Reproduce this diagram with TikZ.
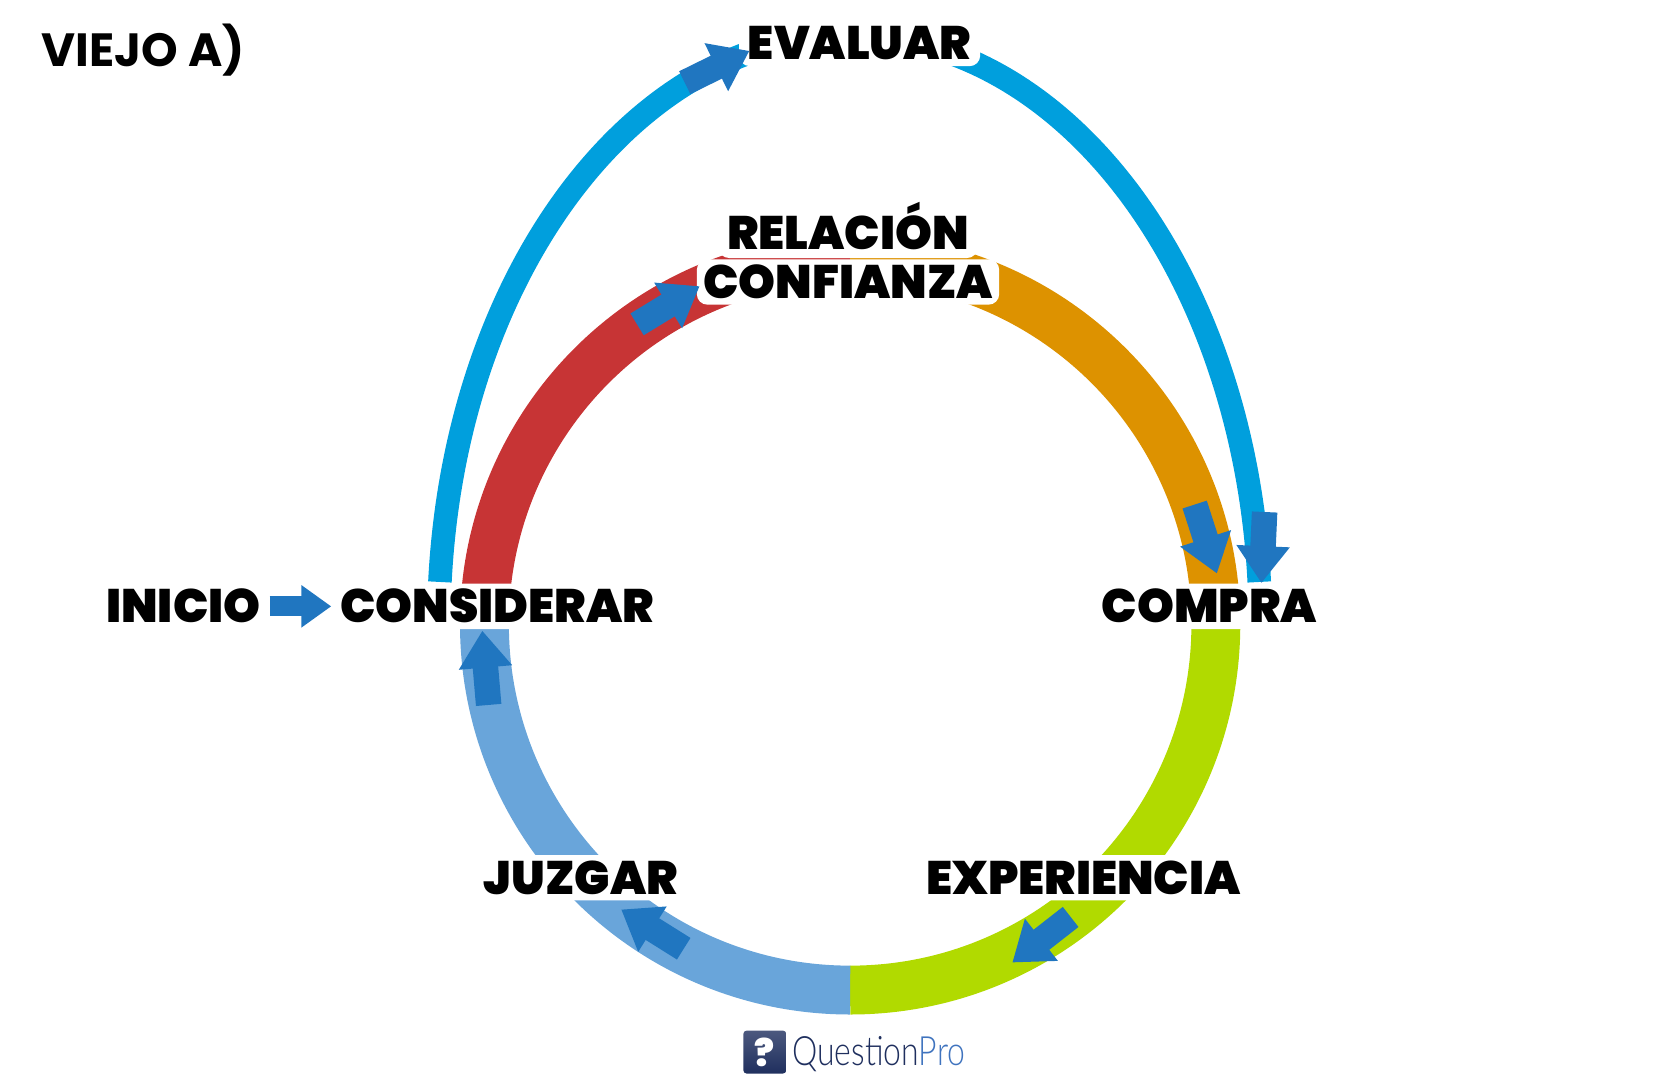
\documentclass[tikz,border=0pt]{standalone}
\usepackage{fontspec}
\usetikzlibrary{arrows.meta}
\setmainfont{Poppins}
\newfontfamily\rotulofont{Poppins Black}
\newfontfamily\titulofont{Poppins Bold}
\newfontfamily\logofont[FakeStretch=0.79]{Lato Light}
\definecolor{rojo}{HTML}{C73435}
\definecolor{naranja}{HTML}{DD9200}
\definecolor{celeste}{HTML}{009FDD}
\definecolor{azulclaro}{HTML}{69A5DA}
\definecolor{verde}{HTML}{B1DA00}
\definecolor{flechaazul}{HTML}{2076C0}
\definecolor{logonavy}{HTML}{1F2F5E}
\definecolor{logoblue}{HTML}{3F73BE}

\begin{document}
\begin{tikzpicture}[x=0.0212cm,y=-0.0212cm]
      % Styles
      \tikzset{rotulo/.style={font=\rotulofont\fontsize{26.7}{27}\selectfont,fill=white,rounded corners=6pt,
                              text height=18.6pt,text depth=0pt,inner xsep=5pt,inner ysep=3.6pt},
               banda/.style={line width=27.8pt},
               lazo/.style={line width=13.4pt,celeste},
               flecha/.style={-{Triangle[length=21pt,width=29pt]},line width=14.5pt,flechaazul}}

      \useasboundingbox (0,0) rectangle (1567.9,1027.4);

      % Ring and outer loop
      \coordinate (centro) at (802,589);
      \draw[banda,rojo] (457,589) arc (180:270:345);
      \draw[banda,naranja] (802,244) arc (270:360:345);
      \draw[banda,verde] (1147,589) arc (0:90:345);
      \draw[banda,azulclaro] (802,934) arc (90:180:345);
      \draw[lazo] (415,549) arc (184.13:355.87:387.5 and 556);

      % Labels
      \node[rotulo] (evaluar) at (811,41) {EVALUAR};
      \node[rotulo,inner ysep=4.8pt] (relacion) at (800,220) {RELACIÓN};
      \node[rotulo,inner xsep=3.6pt] (confianza) at (800,266) {CONFIANZA};
      \node[rotulo] (inicio) at (173,572) {INICIO};
      \node[rotulo] (considerar) at (469,572) {CONSIDERAR};
      \node[rotulo] (compra) at (1141,572) {COMPRA};
      \node[rotulo] (juzgar) at (548,828) {JUZGAR};
      \node[rotulo] (experiencia) at (1022,828) {EXPERIENCIA};
      \node[font=\titulofont\fontsize{26.5}{27}\selectfont] (titulo) at (135,47) {VIEJO A)};

      % Arrow ends
      \coordinate (colaEvaluar) at (646,78);
      \coordinate (puntaEvaluar) at (707,48);
      \coordinate (colaRelacion) at (601,306);
      \coordinate (puntaRelacion) at (660,270);
      \coordinate (colaCompraA) at (1127,476);
      \coordinate (puntaCompraA) at (1148,541);
      \coordinate (colaCompraB) at (1193,483);
      \coordinate (puntaCompraB) at (1190,550);
      \coordinate (colaConsiderar) at (461,665);
      \coordinate (puntaConsiderar) at (455,595);
      \coordinate (colaJuzgar) at (645,895);
      \coordinate (puntaJuzgar) at (586,858);
      \coordinate (colaExperiencia) at (1010,865);
      \coordinate (puntaExperiencia) at (955,908);

      % Arrows
      \draw[flecha] (colaEvaluar) -- (puntaEvaluar);
      \draw[flecha] (colaRelacion) -- (puntaRelacion);
      \draw[flecha] (colaCompraA) -- (puntaCompraA);
      \draw[flecha] (colaCompraB) -- (puntaCompraB);
      \draw[flecha] (colaConsiderar) -- (puntaConsiderar);
      \draw[flecha] (colaJuzgar) -- (puntaJuzgar);
      \draw[flecha] (colaExperiencia) -- (puntaExperiencia);
      \draw[flecha,-{Triangle[length=17pt,width=23pt]},line width=11.5pt] (inicio) -- (considerar);

      % Logo
      \node[minimum size=24.5pt,inner sep=0pt,rounded corners=2pt,top color=logonavy!80!white,bottom color=logonavy,text=white,font=\rotulofont\fontsize{21}{21}\selectfont] (icono) at (721.5,992.5) {?};
      \node[right=0pt,inner sep=0pt,font=\logofont\fontsize{23}{23}\selectfont,text=logonavy] (marca) at (747,994) {Question\textcolor{logoblue}{Pro}};
\end{tikzpicture}
\end{document}
